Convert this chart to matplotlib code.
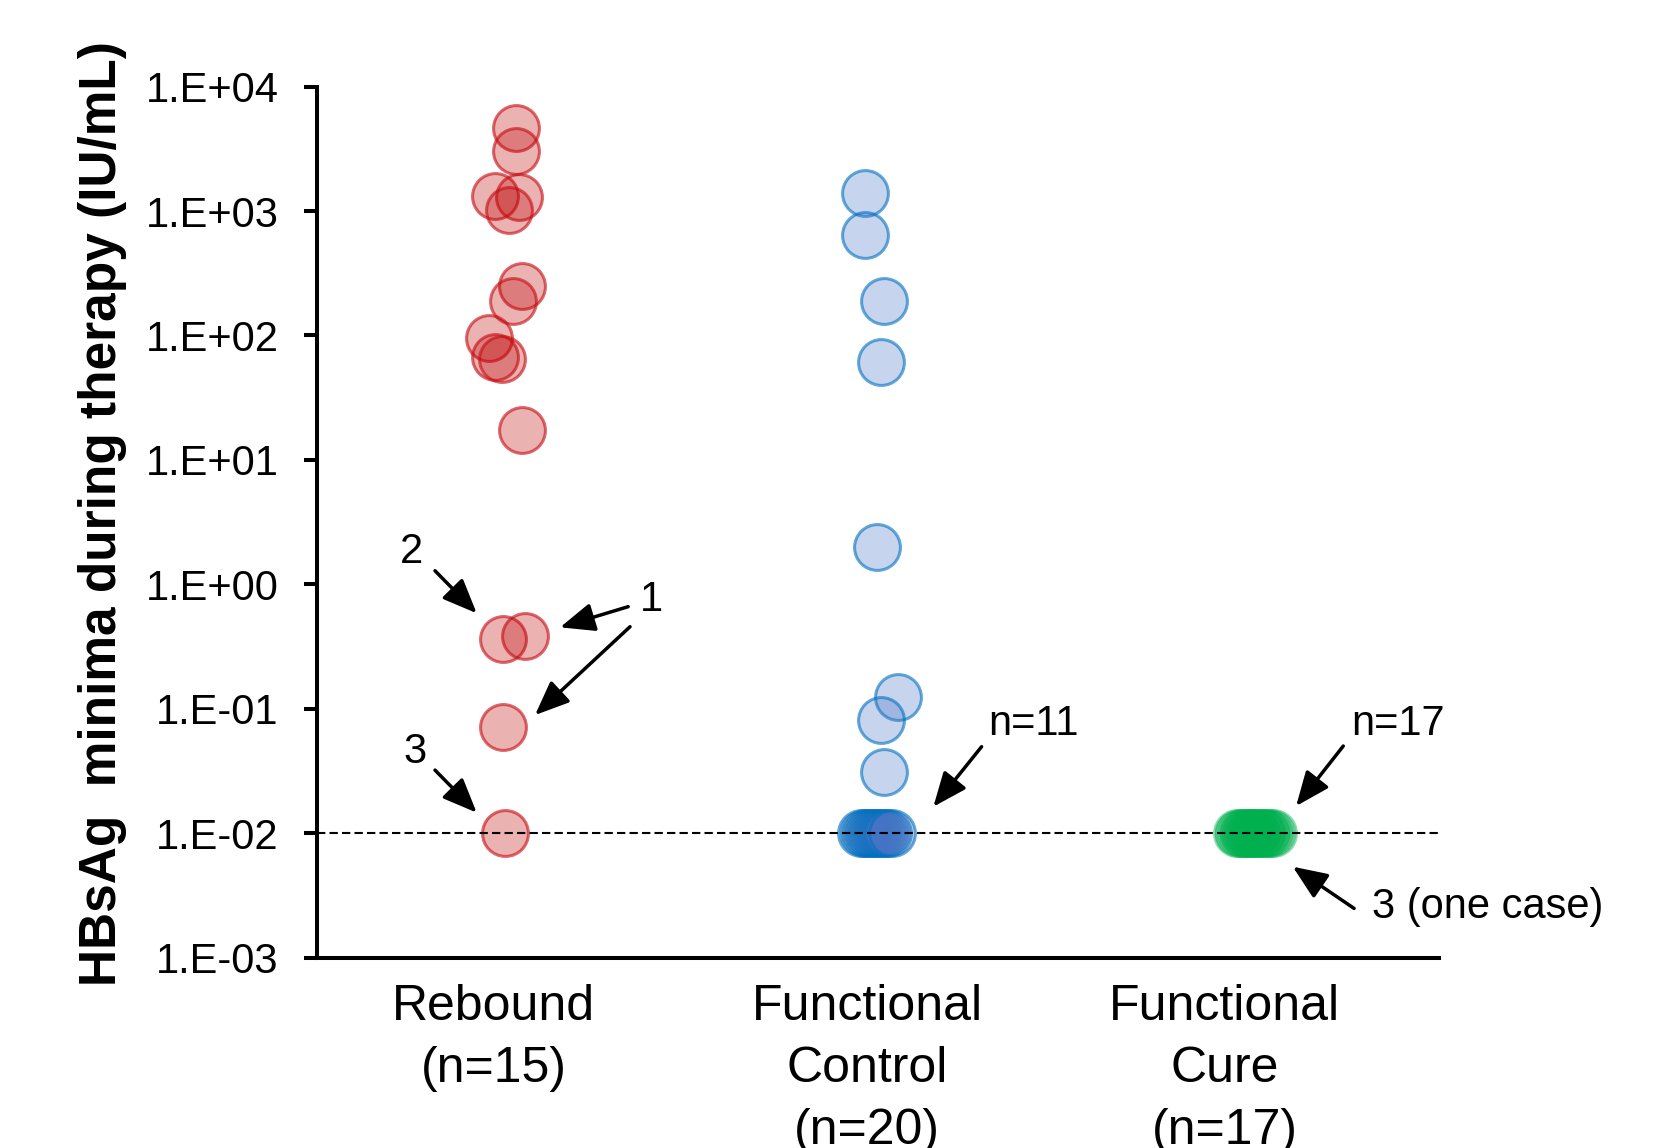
import matplotlib
matplotlib.use('Agg')
import matplotlib.pyplot as plt
from matplotlib import font_manager

# ---------------- data ----------------
categories = ['Rebound\n(n=15)', 'Functional\nControl\n(n=20)', 'Functional\nCure\n(n=17)']
category_pos = [1, 2, 3]
label_pos = [0.973, 1.971, 2.927]

rebound_values = [4670, 3030, 1330, 1310, 1030, 248, 188, 95, 67, 65, 17.3,
                  0.362, 0.386, 0.0716, 0.0100]
rebound_jitter = [0.031, 0.031, -0.023, 0.040, 0.014, 0.048, 0.023, -0.040,
                  -0.023, -0.006, 0.048, -0.003, 0.056, -0.003, 0.003]

control_values = [1406, 641, 190, 60.7, 1.98, 0.125, 0.081, 0.031,
                  0.01, 0.01, 0.01, 0.01, 0.01, 0.01, 0.01, 0.01, 0.01, 0.01, 0.01]
control_jitter = [-0.034, -0.034, 0.017, 0.008, -0.003, 0.054, 0.008, 0.017,
                  -0.045, -0.038, -0.030, -0.022, -0.014, -0.006, 0.003, 0.011,
                  0.020, 0.028, 0.038]

cure_values = [0.01, 0.01, 0.01, 0.01, 0.01, 0.01, 0.01, 0.01, 0.01,
               0.01, 0.01, 0.01, 0.01, 0.01, 0.01, 0.01, 0.01]
cure_jitter = [-0.040, -0.034, -0.028, -0.022, -0.017, -0.011, -0.006, 0.0,
               0.006, 0.011, 0.017, 0.023, 0.028, 0.034, 0.040, 0.048, 0.056]

ytick_values = [1e-3, 1e-2, 1e-1, 1e0, 1e1, 1e2, 1e3, 1e4]
ytick_labels = ['1.E-03', '1.E-02', '1.E-01', '1.E+00', '1.E+01', '1.E+02', '1.E+03', '1.E+04']
detection_limit = 0.01

# ---------------- style ----------------
plt.rcParams['font.family'] = ['Liberation Sans', 'DejaVu Sans']
names = {f.name for f in font_manager.fontManager.ttflist}
if 'Liberation Sans Narrow' in names:
    ylab_family, ylab_size = ['Liberation Sans Narrow', 'Liberation Sans'], 43
else:
    ylab_family, ylab_size = ['Liberation Sans', 'DejaVu Sans'], 37

fig = plt.figure(figsize=(16.57, 11.48), dpi=100)
ax = fig.add_axes([317 / 1657, 1 - 957.5 / 1148, 1122 / 1657, 870.8 / 1148])

S = 1090
LW = 2.2
groups = [
    (rebound_values, rebound_jitter, category_pos[0],
     (0.75, 0.0, 0.0, 0.30), (0.78, 0.05, 0.08, 0.62)),
    (control_values, control_jitter, category_pos[1],
     (0.267, 0.447, 0.769, 0.30), (0.0, 0.44, 0.75, 0.60)),
    (cure_values, cure_jitter, category_pos[2],
     (0.0, 0.69, 0.31, 0.30), (0.0, 0.69, 0.31, 0.45)),
]
for vals, jit, pos, fc, ec in groups:
    xs = [pos + j for j in jit]
    ax.scatter(xs, vals, s=S, facecolors=[fc], edgecolors=[ec],
               linewidths=LW, zorder=3, clip_on=False)

ax.axhline(detection_limit, color='black', lw=1.5, ls=(0, (4, 2)), zorder=4)

ax.set_yscale('log')
ax.set_ylim(1e-3, 1e4)
ax.set_xlim(0.5, 3.5)
ax.set_yticks(ytick_values)
ax.set_yticklabels(ytick_labels)
ax.minorticks_off()
ax.set_xticks(label_pos)
ax.set_xticklabels(categories, fontsize=36, linespacing=1.45)

for side in ['top', 'right']:
    ax.spines[side].set_visible(False)
for side in ['left', 'bottom']:
    ax.spines[side].set_linewidth(2.9)
ax.tick_params(axis='y', which='major', length=9.5, width=2.9, pad=18,
               labelsize=30, direction='out')
ax.tick_params(axis='x', length=0, pad=19)

fig.text(103 / 1657, 1 - 514 / 1148, 'HBsAg  minima during therapy (IU/mL)',
         rotation=90, ha='center', va='center', fontsize=ylab_size,
         fontweight='bold', family=ylab_family)

# ---------------- annotations ----------------
arrow = dict(arrowstyle='-|>,head_length=0.6,head_width=0.25', mutation_scale=35,
             lw=2.5, color='black', shrinkA=0, shrinkB=0)
fs = 30

ax.annotate('', xy=(0.927, 0.585), xytext=(0.8155, 1.285), arrowprops=arrow)
ax.text(0.753, 1.83, '2', fontsize=fs, ha='center', va='center')

ax.annotate('', xy=(1.150, 0.451), xytext=(1.332, 0.661), arrowprops=arrow)
ax.annotate('', xy=(1.083, 0.0889), xytext=(1.337, 0.456), arrowprops=arrow)
ax.text(1.395, 0.748, '1', fontsize=fs, ha='center', va='center')

ax.annotate('', xy=(0.927, 0.0146), xytext=(0.8155, 0.0321), arrowprops=arrow)
ax.text(0.762, 0.0451, '3', fontsize=fs, ha='center', va='center')

ax.annotate('', xy=(2.148, 0.0163), xytext=(2.277, 0.0495), arrowprops=arrow)
ax.text(2.417, 0.0753, 'n=11', fontsize=fs, ha='center', va='center')

ax.annotate('', xy=(3.118, 0.0165), xytext=(3.244, 0.0501), arrowprops=arrow)
ax.text(3.390, 0.0753, 'n=17', fontsize=fs, ha='center', va='center')

ax.annotate('', xy=(3.109, 0.00537), xytext=(3.273, 0.00248), arrowprops=arrow,
            annotation_clip=False)
ax.text(3.320, 0.00256, '3 (one case)', fontsize=fs, ha='left', va='center',
        clip_on=False)

fig.savefig('out.png', dpi=100)
